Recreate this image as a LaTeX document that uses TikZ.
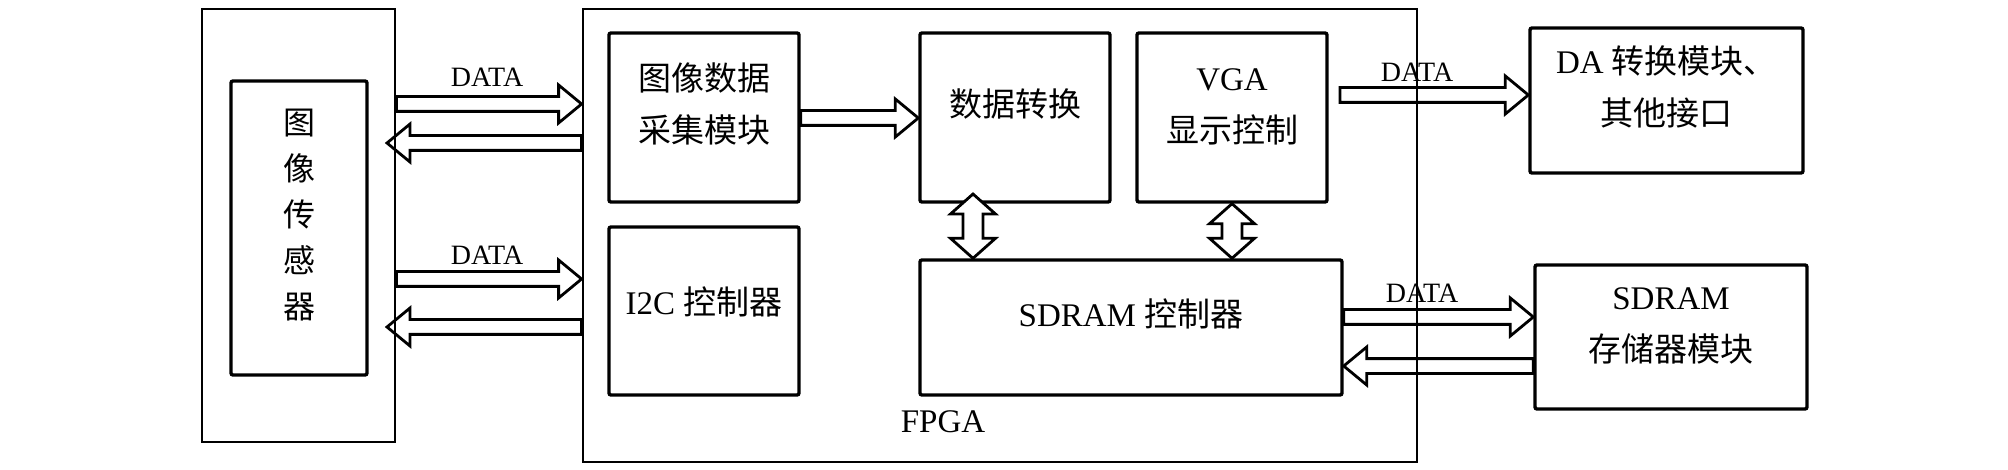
\documentclass[tikz,border=0pt]{standalone}
\usepackage{fontspec}
\setmainfont{Liberation Serif}
\newfontfamily\cjk{Noto Sans CJK SC}
\usetikzlibrary{calc,fit}
\pgfdeclarelayer{front}
\pgfsetlayers{main,front}
\tikzstyle{pixels} = [x = 0.5pt, y = -0.5pt]
\tikzstyle{blockStyle} = [draw, line width = 1.7pt, rounded corners = 1pt, fill = white, inner sep = 0pt, align = center, font = \fontsize{16.5}{26}\selectfont]
\tikzstyle{frameStyle} = [draw, line width = 1.4pt, inner sep = 0pt]
\tikzstyle{fatArrowStyle} = [draw, fill = white, line width = 1.4pt, line join = miter]
\tikzstyle{dataText} = [font = \fontsize{14}{14}\selectfont]
\tikzstyle{labelText} = [font = \fontsize{16.5}{26}\selectfont]
\newcommand{\shaftHalf}{3.7pt}
\newcommand{\headHalf}{9.5pt}
\newcommand{\headLen}{11.5pt}
\newcommand{\dShaftHalf}{5pt}
\newcommand{\dHeadHalf}{11.25pt}
\newcommand{\dHeadLen}{10pt}
\newcommand{\fatArrow}[2]{
  \coordinate (headBase) at ($(#2)!\headLen!(#1)$);
  \filldraw [fatArrowStyle] ($(#1)!\shaftHalf!90:(#2)$) -- ($(headBase)!\shaftHalf!90:(#2)$)
    -- ($(headBase)!\headHalf!90:(#2)$) -- (#2) -- ($(headBase)!\headHalf!-90:(#2)$)
    -- ($(headBase)!\shaftHalf!-90:(#2)$) -- ($(#1)!\shaftHalf!-90:(#2)$) -- cycle;
}
\newcommand{\fatDoubleArrow}[2]{
  \coordinate (headBaseA) at ($(#1)!\dHeadLen!(#2)$);
  \coordinate (headBaseB) at ($(#2)!\dHeadLen!(#1)$);
  \filldraw [fatArrowStyle] (#1) -- ($(headBaseA)!\dHeadHalf!90:(#2)$) -- ($(headBaseA)!\dShaftHalf!90:(#2)$)
    -- ($(headBaseB)!\dShaftHalf!90:(#2)$) -- ($(headBaseB)!\dHeadHalf!90:(#2)$) -- (#2)
    -- ($(headBaseB)!\dHeadHalf!-90:(#2)$) -- ($(headBaseB)!\dShaftHalf!-90:(#2)$)
    -- ($(headBaseA)!\dShaftHalf!-90:(#2)$) -- ($(headBaseA)!\dHeadHalf!-90:(#2)$) -- cycle;
}

\begin{document}
\begin{tikzpicture}[pixels]
  \useasboundingbox (0,0) rectangle (2008,470);

  % outer frames, drawn over the arrows
  \begin{pgfonlayer}{front}
    \node [frameStyle, fit = {(202,9) (395,442)}] (sensorFrame) {};
    \node [frameStyle, fit = {(583,9) (1417,462)}] (fpga) {};
  \end{pgfonlayer}

  \node [blockStyle, fit = {(231,81) (367,375)}, font = \fontsize{16}{23}\selectfont\cjk] (sensor) {图\\像\\传\\感\\器};
  \node [blockStyle, fit = {(609,33) (799,202)}] (acq) {{\cjk 图像数据}\\{\cjk 采集模块}};
  \node [blockStyle, fit = {(609,227) (799,395)}, label = {[labelText, yshift = 4.5pt]center:I2C {\cjk 控制器}}] (iic) {};
  \node [blockStyle, fit = {(920,33) (1110,202)}] (conv) {{\cjk 数据转换}};
  \node [blockStyle, fit = {(1137,33) (1327,202)}] (vga) {VGA\\{\cjk 显示控制}};
  \node [blockStyle, fit = {(920,260) (1342,395)}] (sdramCtrl) {SDRAM {\cjk 控制器}};
  \node [blockStyle, fit = {(1530,28) (1803,173)}] (da) {DA {\cjk 转换模块、}\\{\cjk 其他接口}};
  \node [blockStyle, fit = {(1535,265) (1807,409)}] (mem) {SDRAM\\{\cjk 存储器模块}};
  \node [labelText] (fpgaLabel) at (943,422) {FPGA};

  % free ends
  \coordinate (sensorBackA) at (387,143);
  \coordinate (sensorBackB) at (387,327);
  \coordinate (vgaOut) at (1340,95);

  \fatArrow{sensorFrame.east |- 0,104}{fpga.west |- 0,104}
  \fatArrow{fpga.west |- 0,143}{sensorBackA}
  \fatArrow{sensorFrame.east |- 0,279}{fpga.west |- 0,279}
  \fatArrow{fpga.west |- 0,327}{sensorBackB}
  \fatArrow{acq.east |- 0,118}{conv.west |- 0,118}
  \fatDoubleArrow{973,194}{sdramCtrl.north -| 973,0}
  \fatDoubleArrow{vga.south}{vga.south |- sdramCtrl.north}
  \fatArrow{vgaOut}{da.west |- vgaOut}
  \fatArrow{sdramCtrl.east |- 0,317}{mem.west |- 0,317}
  \fatArrow{mem.west |- 0,366}{sdramCtrl.east |- 0,366}

  \node [dataText] (dataA) at (487,77) {DATA};
  \node [dataText] (dataB) at (487,255) {DATA};
  \node [dataText] (dataC) at (1417,72) {DATA};
  \node [dataText] (dataD) at (1422,293) {DATA};
\end{tikzpicture}
\end{document}
